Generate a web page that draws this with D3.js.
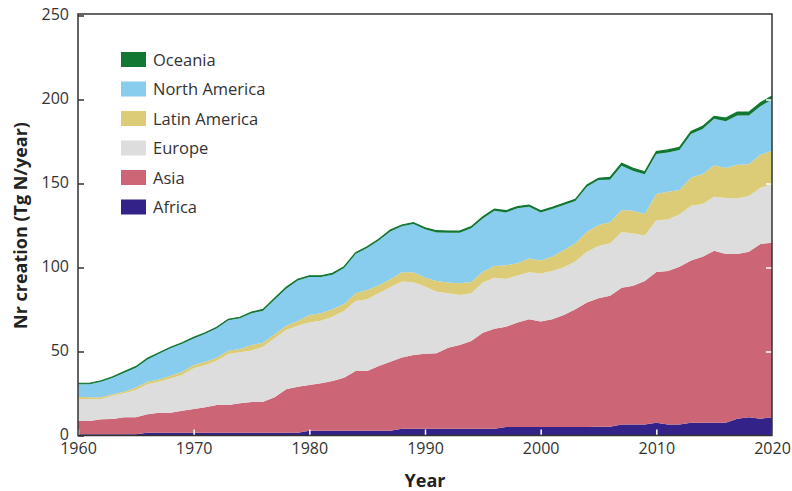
<!DOCTYPE html>
<html>
<head>
<meta charset="utf-8">
<script src="https://cdn.jsdelivr.net/npm/d3@7"></script>
<style>
  html, body { margin: 0; padding: 0; background: #fff; }
  svg { display: block; }
</style>
</head>
<body>
<svg id="chart" width="792" height="491"></svg>
<script>
const years = [1960,1961,1962,1963,1964,1965,1966,1967,1968,1969,
  1970,1971,1972,1973,1974,1975,1976,1977,1978,1979,
  1980,1981,1982,1983,1984,1985,1986,1987,1988,1989,
  1990,1991,1992,1993,1994,1995,1996,1997,1998,1999,
  2000,2001,2002,2003,2004,2005,2006,2007,2008,2009,
  2010,2011,2012,2013,2014,2015,2016,2017,2018,2019,2020];

const africa = [0.8,0.8,0.8,0.8,0.8,0.8,1.7,1.7,1.7,1.7,
  1.7,1.7,1.7,1.7,1.7,1.7,1.7,1.7,1.7,1.7,
  2.9,2.9,2.9,2.9,2.9,2.9,2.9,2.9,4.0,4.0,
  4.0,4.0,4.0,4.0,4.0,4.0,4.0,5.0,5.0,5.0,
  5.0,5.0,5.0,5.0,5.0,5.2,5.2,6.6,6.6,6.6,
  7.6,6.5,6.5,7.6,7.6,7.6,7.6,10.0,10.8,10.0,10.8];

const asia = [7.8,7.8,8.8,9.0,10.0,10.0,10.9,11.9,11.9,13.1,
  14.1,15.1,16.5,16.5,17.5,18.3,18.4,21.0,25.8,27.3,
  27.2,28.2,29.5,31.5,35.5,35.5,38.5,41.0,42.5,43.9,
  44.7,44.9,48.3,49.9,52.3,57.2,59.6,59.8,62.2,64.2,
  62.8,64.2,66.7,70.1,74.1,76.5,78.0,81.4,82.6,85.4,
  89.7,91.4,94.0,96.5,98.8,102.4,100.4,98.0,98.6,104.0,104.0];

const europe = [13.1,13.1,12.1,13.9,14.3,16.3,17.9,18.4,20.4,21.2,
  24.2,25.2,26.3,30.3,30.3,30.6,32.8,35.2,35.3,36.4,
  37.1,37.2,38.3,39.7,41.7,42.7,43.2,44.3,45.1,43.3,
  40.0,36.7,32.3,29.7,28.3,29.9,30.3,28.4,28.0,27.9,
  28.7,28.7,28.4,28.4,30.3,31.1,31.2,33.1,31.1,27.0,
  30.8,30.6,31.1,32.7,31.4,32.1,33.4,33.2,33.2,33.5,34.7];

const latinAmerica = [1.4,1.0,1.0,0.8,1.0,1.4,1.5,1.4,1.6,2.0,
  2.0,1.9,1.8,2.0,2.0,3.3,2.3,2.3,2.6,2.8,
  4.5,4.4,4.4,4.2,4.5,5.5,4.8,4.8,5.5,5.9,
  5.3,6.4,6.4,7.0,6.8,6.4,7.0,8.1,7.3,8.2,
  7.6,8.6,10.3,10.9,11.9,12.5,12.5,13.1,13.5,12.8,
  15.6,16.6,14.5,16.7,17.7,18.7,17.8,20.0,18.8,19.6,20.0];

const northAmerica = [7.4,7.8,9.3,9.9,11.3,11.9,13.3,15.3,16.3,16.6,
  15.8,16.7,17.5,18.1,18.3,18.9,19.1,20.7,22.0,24.0,
  22.6,21.6,20.6,21.4,23.4,25.0,26.6,28.5,27.4,28.8,
  28.8,28.9,29.7,30.1,31.9,31.7,32.9,31.5,32.7,30.9,
  28.7,28.3,26.8,25.2,26.8,26.8,25.3,26.3,23.7,23.7,
  23.8,23.4,23.9,26.0,27.0,27.7,27.8,29.3,29.1,28.9,30.5];

const oceania = [0.6,0.6,0.6,0.6,0.6,0.6,0.6,0.6,0.6,0.6,
  0.6,0.6,0.6,0.6,0.6,0.6,0.8,0.8,0.8,0.8,
  0.8,0.8,0.8,0.8,0.8,0.8,0.8,0.8,0.8,0.8,
  0.8,1.0,1.0,1.0,1.0,1.0,1.0,1.0,1.0,1.0,
  1.0,1.0,1.0,1.0,1.0,1.0,1.5,1.5,1.5,1.5,
  1.5,1.5,1.5,1.5,1.5,1.5,2.0,2.0,2.0,2.0,2.0];

const seriesNames = ["Africa", "Asia", "Europe", "Latin America", "North America", "Oceania"];
const seriesValues = [africa, asia, europe, latinAmerica, northAmerica, oceania];
const seriesColors = ["#332288", "#CC6677", "#DDDDDD", "#DDCC77", "#88CCEE", "#117733"];

const yTicks = [0, 50, 100, 150, 200, 250];
const xTicks = [1960, 1970, 1980, 1990, 2000, 2010, 2020];
const xTitle = "Year";
const yTitle = "Nr creation (Tg N/year)";

// Build table for stacking
const table = years.map((y, i) => {
  const row = { year: y };
  seriesNames.forEach((n, k) => { row[n] = seriesValues[k][i]; });
  return row;
});

const svg = d3.select("#chart");
const FONT = "'Open Sans', sans-serif";

const x = d3.scaleLinear().domain([1960, 2020]).range([78, 772]);
const y = d3.scaleLinear().domain([0, 250]).range([435.5, 15.5]);

const stack = d3.stack().keys(seriesNames);
const stacked = stack(table);

const area = d3.area()
  .x(d => x(d.data.year))
  .y0(d => y(d[0]))
  .y1(d => y(d[1]))
  .curve(d3.curveLinear);

const g = svg.append("g");
g.selectAll("path.layer")
  .data(stacked)
  .join("path")
  .attr("class", "layer")
  .attr("fill", (d, i) => seriesColors[i])
  .attr("d", area);

// thin top edge for Oceania so it remains visible
const topLine = d3.line()
  .x(d => x(d.data.year))
  .y(d => y(d[1]))
  .curve(d3.curveLinear);
g.append("path")
  .datum(stacked[stacked.length - 1])
  .attr("fill", "none")
  .attr("stroke", "#117733")
  .attr("stroke-width", 1.2)
  .attr("d", topLine);

// Inner ticks: bottom (white), right (white), left (dark)
const tickLen = 6;
const axisColor = "#333333";

const bottomAxis = d3.axisBottom(x).tickValues(xTicks).tickSize(-tickLen).tickFormat("");
svg.append("g").attr("transform", `translate(0,${y(0)})`).call(bottomAxis)
  .call(s => s.select(".domain").remove())
  .call(s => s.selectAll(".tick line").attr("stroke", "#ffffff").attr("stroke-width", 1.5));

const rightAxis = d3.axisRight(y).tickValues(yTicks).tickSize(-tickLen).tickFormat("");
svg.append("g").attr("transform", `translate(${x(2020)},0)`).call(rightAxis)
  .call(s => s.select(".domain").remove())
  .call(s => s.selectAll(".tick line").attr("stroke", "#ffffff").attr("stroke-width", 1.5));

const leftAxis = d3.axisLeft(y).tickValues(yTicks).tickSize(-tickLen).tickPadding(9)
  .tickFormat(d3.format("d"));
svg.append("g").attr("transform", `translate(${x(1960)},0)`).call(leftAxis)
  .call(s => s.select(".domain").remove())
  .call(s => s.selectAll(".tick line").attr("stroke", axisColor).attr("stroke-width", 1.5))
  .call(s => s.selectAll(".tick text")
    .attr("fill", axisColor)
    .attr("dy", "0.28em")
    .attr("font-family", FONT)
    .attr("font-size", 16));

const xLabelAxis = d3.axisBottom(x).tickValues(xTicks).tickSize(0).tickPadding(7)
  .tickFormat(d3.format("d"));
svg.append("g").attr("transform", `translate(0,${y(0)})`).call(xLabelAxis)
  .call(s => s.select(".domain").remove())
  .call(s => s.selectAll(".tick text")
    .attr("fill", axisColor)
    .attr("font-family", FONT)
    .attr("font-size", 16));

// Frame
svg.append("rect")
  .attr("x", x(1960))
  .attr("y", y(250) - 1.5)
  .attr("width", x(2020) - x(1960))
  .attr("height", y(0) - y(250) + 1.5)
  .attr("fill", "none")
  .attr("stroke", axisColor)
  .attr("stroke-width", 1.5);

// Axis titles
svg.append("text")
  .attr("x", (x(1960) + x(2020)) / 2)
  .attr("y", 487)
  .attr("text-anchor", "middle")
  .attr("font-family", FONT)
  .attr("font-weight", "bold")
  .attr("font-size", 18)
  .attr("fill", "#222")
  .text(xTitle);

svg.append("text")
  .attr("transform", `translate(27,${(y(0) + y(250)) / 2}) rotate(-90)`)
  .attr("text-anchor", "middle")
  .attr("font-family", FONT)
  .attr("font-weight", "bold")
  .attr("font-size", 18)
  .attr("fill", "#222")
  .text(yTitle);

// Legend (top to bottom: reverse order)
const legendOrder = seriesNames.map((n, i) => ({ name: n, color: seriesColors[i] })).reverse();
const legend = svg.append("g").attr("transform", "translate(121,52)");
const lg = legend.selectAll("g.item").data(legendOrder).join("g")
  .attr("class", "item")
  .attr("transform", (d, i) => `translate(0,${i * 29.5})`);
lg.append("rect").attr("width", 25).attr("height", 15).attr("fill", d => d.color);
lg.append("text")
  .attr("x", 32).attr("y", 13.5)
  .attr("font-family", FONT)
  .attr("font-size", 16.5)
  .attr("fill", "#333")
  .text(d => d.name);
</script>
</body>
</html>
